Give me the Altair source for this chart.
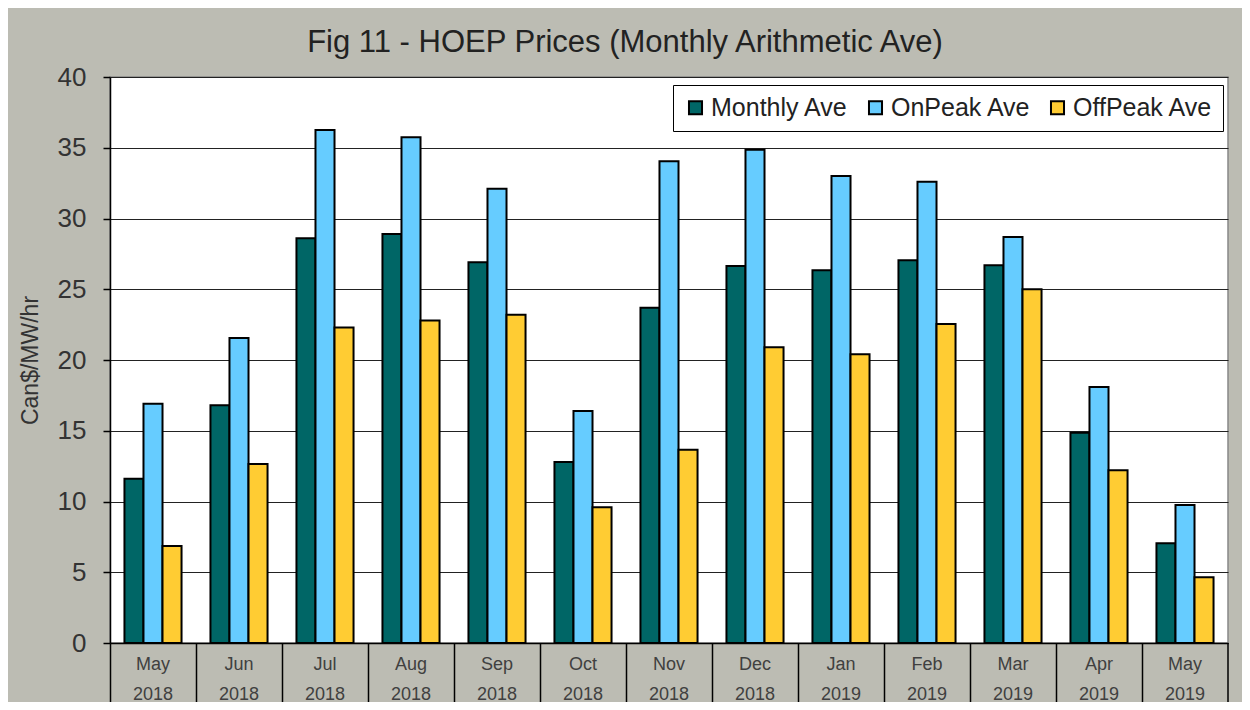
import altair as alt
import pandas as pd

months = ["May", "Jun", "Jul", "Aug", "Sep", "Oct", "Nov", "Dec", "Jan", "Feb", "Mar", "Apr", "May"]
years = ["2018", "2018", "2018", "2018", "2018", "2018", "2018", "2018", "2019", "2019", "2019", "2019", "2019"]
series = ["Monthly Ave", "OnPeak Ave", "OffPeak Ave"]
monthly_ave = [11.6, 16.8, 28.6, 28.9, 26.9, 12.8, 23.7, 26.65, 26.35, 27.05, 26.7, 14.85, 7.05]
onpeak_ave = [16.9, 21.55, 36.25, 35.75, 32.1, 16.4, 34.05, 34.85, 33.0, 32.6, 28.7, 18.1, 9.75]
offpeak_ave = [6.85, 12.65, 22.3, 22.8, 23.2, 9.6, 13.65, 20.9, 20.4, 22.55, 25.0, 12.2, 4.65]
colors = ["#006666", "#66CCFF", "#FFCC33"]

keys = [f"{m}|{y}" for m, y in zip(months, years)]
rows = []
for i, k in enumerate(keys):
    for s, vals in zip(series, [monthly_ave, onpeak_ave, offpeak_ave]):
        rows.append({"period": k, "series": s, "value": vals[i]})
df = pd.DataFrame(rows)

W, H = 1118, 566
FONT = "Liberation Sans"

bars = alt.Chart(df).mark_bar(stroke="black", strokeWidth=2).encode(
    x=alt.X("period:N", sort=keys, title=None,
            scale=alt.Scale(paddingInner=0, paddingOuter=0),
            axis=alt.Axis(labelAngle=0, labelExpr="split(datum.label, '|')",
                          labelFontSize=18, labelLineHeight=30, labelColor="#404040",
                          labelFont=FONT, labelPadding=-50, labelBaseline="top",
                          bandPosition=0, tickSize=62, tickColor="black", tickWidth=1.5,
                          domainColor="black", domainWidth=1.5, grid=False)),
    xOffset=alt.XOffset("series:N", sort=series,
                        scale=alt.Scale(paddingInner=0, paddingOuter=0.76)),
    y=alt.Y("value:Q", title="Can$/MW/hr",
            scale=alt.Scale(domain=[0, 40], nice=False),
            axis=alt.Axis(values=[0, 5, 10, 15, 20, 25, 30, 35, 40],
                          labelFontSize=26, labelColor="#333333", labelFont=FONT,
                          labelPadding=17, tickSize=7, tickColor="black", tickWidth=1.5,
                          domainColor="black", domainWidth=1.5,
                          gridColor="#222222", gridWidth=1,
                          titleFontSize=23, titleFont=FONT, titleColor="#333333",
                          titleFontWeight="normal", titlePadding=15)),
    color=alt.Color("series:N", sort=series,
                    scale=alt.Scale(domain=series, range=colors),
                    legend=alt.Legend(title=None, orient="none", legendX=563, legendY=8,
                                      direction="horizontal", fillColor="white",
                                      strokeColor="black", padding=10,
                                      symbolType="square", symbolSize=170,
                                      symbolStrokeColor="black", symbolStrokeWidth=2,
                                      labelFontSize=25, labelFont=FONT, labelColor="#222222",
                                      columnPadding=14, labelOffset=3)),
)

edge = alt.Chart(alt.Data(values=[{"a": 1}])).mark_rule(color="black", strokeWidth=1.5).encode(
    x=alt.value(W), y=alt.value(H), y2=alt.value(H + 62)
)

chart = alt.layer(bars, edge).properties(
    width=W, height=H,
    autosize=alt.AutoSizeParams(type="none"),
    padding={"left": 102, "top": 69, "right": 14, "bottom": 59},
    title=alt.TitleParams("Fig 11 - HOEP Prices (Monthly Arithmetic Ave)",
                          fontSize=31, font=FONT, fontWeight="normal", color="#222222",
                          anchor="middle", offset=5, dx=-44),
).configure(background="#BCBCB3").configure_view(stroke="#888888", strokeWidth=1.5, fill="white")

chart.save("out.html", embed_options={"renderer": "svg", "actions": False})
